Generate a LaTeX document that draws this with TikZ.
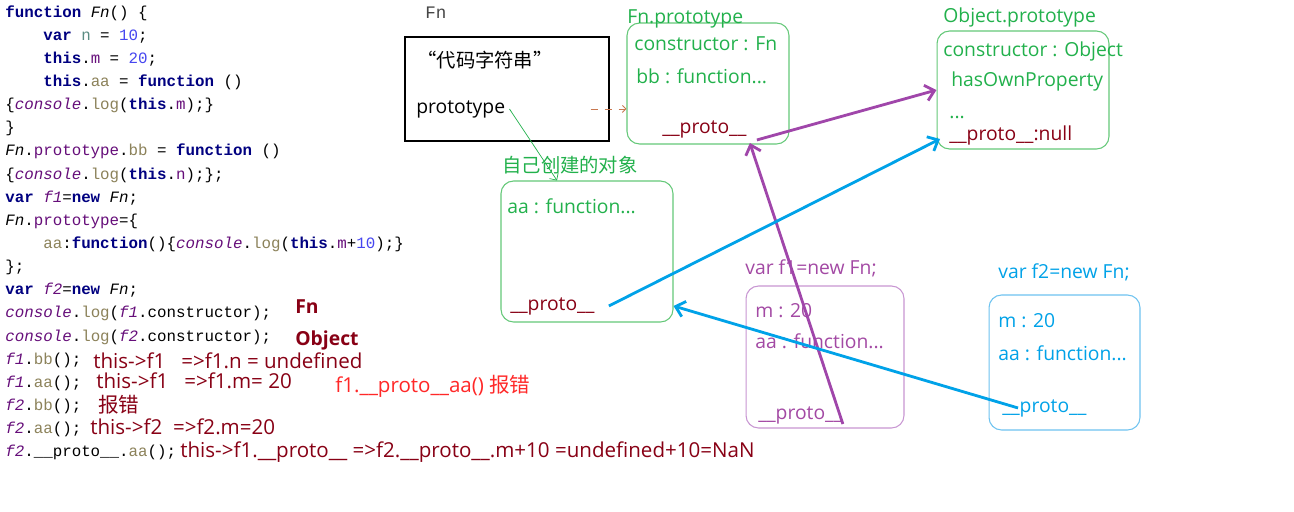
\documentclass[tikz,border=0pt]{standalone}
\usepackage{fontspec}
\setmainfont{Open Sans}
\setmonofont{Liberation Mono}
\newfontfamily\cjk{Noto Sans CJK SC}
\usetikzlibrary{arrows.meta,calc,positioning}

\definecolor{kwblue}{RGB}{0,0,128}
\definecolor{codepurple}{RGB}{102,14,122}
\definecolor{codeolive}{RGB}{140,130,90}
\definecolor{codeteal}{RGB}{90,140,130}
\definecolor{codenum}{RGB}{70,70,240}
\definecolor{codegray}{RGB}{70,70,70}
\definecolor{boxgreen}{RGB}{100,200,120}
\definecolor{txtgreen}{RGB}{34,177,76}
\definecolor{darkred}{RGB}{136,0,21}
\definecolor{errred}{RGB}{255,40,40}
\definecolor{purpletxt}{RGB}{163,73,164}
\definecolor{purpleline}{RGB}{160,70,170}
\definecolor{purplebox}{RGB}{200,150,210}
\definecolor{bluetxt}{RGB}{0,162,232}
\definecolor{bluebox}{RGB}{110,195,240}
\definecolor{dashbrown}{RGB}{200,120,80}

\newcommand{\kw}[1]{\textcolor{kwblue}{\bfseries #1}}
\newcommand{\fnit}[1]{\textit{#1}}
\newcommand{\cons}{\textcolor{codepurple}{\itshape console}}
\newcommand{\prp}[1]{\textcolor{codepurple}{#1}}
\newcommand{\olv}[1]{\textcolor{codeolive}{#1}}
\newcommand{\cnum}[1]{\textcolor{codenum}{#1}}
\newcommand{\ff}[1]{\textcolor{codepurple}{\itshape #1}}
\newcommand{\codetab}{\ \ \ \ }
\newcommand{\codefont}{\ttfamily\fontsize{9}{11}\selectfont}
\newcommand{\lblfont}{\fontsize{11}{13}\selectfont}
\newcommand{\notefont}{\fontsize{11.7}{14}\selectfont}

\begin{document}
\begin{tikzpicture}[x=0.02cm, y=-0.02cm,
		codeline/.style = {anchor=base west, inner sep=0pt, font=\codefont},
		txt/.style      = {anchor=base west, inner sep=0pt, font=\lblfont},
		basic/.style    = {draw, inner sep=0pt, line width=0.6pt},
		gbox/.style     = {basic, draw=boxgreen, rounded corners=0.25cm},
		pbox/.style     = {basic, draw=purplebox, rounded corners=0.25cm},
		bbox/.style     = {basic, draw=bluebox, rounded corners=0.25cm},
		parrow/.style   = {draw=purpleline, line width=1.6pt, -{Straight Barb[length=5pt,width=9pt]}},
		barrow/.style   = {draw=bluetxt, line width=1.6pt, -{Straight Barb[length=5pt,width=9pt]}},
		dasharrow/.style= {draw=dashbrown, line width=0.5pt, dash pattern=on 4pt off 4pt, -{Straight Barb[length=2pt,width=4pt]}},
		garrow/.style   = {draw=txtgreen, line width=0.4pt, -{Straight Barb[length=3pt,width=6pt]}}]

		\path[use as bounding box, fill=white] (0,0) rectangle (1294,511);

		% source code on the left
		\foreach \t [count=\i] in {
			{\kw{function} \fnit{Fn}() \{},
			{\codetab\kw{var} \textcolor{codeteal}{n} = \cnum{10};},
			{\codetab\kw{this}.\prp{m} = \cnum{20};},
			{\codetab\kw{this}.\olv{aa} = \kw{function} ()},
			{\{\cons.\olv{log}(\kw{this}.\prp{m});\}},
			{\}},
			{\fnit{Fn}.\prp{prototype}.\olv{bb} = \kw{function} ()},
			{\{\cons.\olv{log}(\kw{this}.\prp{n});\};},
			{\kw{var} \ff{f1}=\kw{new} \fnit{Fn};},
			{\fnit{Fn}.\prp{prototype}=\{},
			{\codetab\olv{aa}:\kw{function}()\{\cons.\olv{log}(\kw{this}.\prp{m}+\cnum{10});\}},
			{\};},
			{\kw{var} \ff{f2}=\kw{new} \fnit{Fn};},
			{\cons.\olv{log}(\ff{f1}.constructor);},
			{\cons.\olv{log}(\ff{f2}.constructor);},
			{\ff{f1}.\olv{bb}();},
			{\ff{f1}.\olv{aa}();},
			{\ff{f2}.\olv{bb}();},
			{\ff{f2}.\olv{aa}();},
			{\ff{f2}.\_\_proto\_\_.\olv{aa}();}}
		\node[codeline] (code\i) at (5,{17+23.15*(\i-1)}) {\t};

		% answers and notes
		\begin{scope}[every node/.style={txt, font=\notefont, text=darkred}]
			\node[font=\lblfont\bfseries] (ansFn) at (295,313) {Fn};
			\node[font=\lblfont\bfseries] (ansObj) at (295,345) {Object};
			\node (note1) at (93,368) {this->f1\ \ \ =>f1.n = undefined};
			\node (note2) at (96,388) {this->f1\ \ \ =>f1.m= 20};
			\node (note3) at (98,412) {\cjk 报错};
			\node (note4) at (90,434) {this->f2\ \ =>f2.m=20};
			\node (note5) at (180,457) {this->f1.\_\_proto\_\_ =>f2.\_\_proto\_\_.m+10 =undefined+10=NaN};
			\node[text=errred] (noteErr) at (335,392) {f1.\_\_proto\_\_aa() {\cjk 报错}};
		\end{scope}

		% boxes
		\node[basic, minimum width=4.08cm, minimum height=2.08cm] (fnbox) at (507,89) {};
		\node[gbox, minimum width=3.24cm, minimum height=2.42cm] (fpbox) at (708,83.5) {};
		\node[gbox, minimum width=3.44cm, minimum height=2.36cm] (objbox) at (1023,90) {};
		\node[gbox, minimum width=3.44cm, minimum height=2.82cm] (selfbox) at (587,251.5) {};
		\node[pbox, minimum width=3.16cm, minimum height=2.84cm] (f1box) at (825,357) {};
		\node[bbox, minimum width=3.02cm, minimum height=2.70cm] (f2box) at (1064.5,362.5) {};

		% Fn
		\node[txt, font=\ttfamily\fontsize{10}{12}\selectfont, text=codegray] (fnTitle) at (425,18) {Fn};
		\node[txt] (zhLbl) at (417,67) {\cjk “代码字符串”};
		\node[txt] (protoLbl) at (416,113) {prototype};

		% Fn.prototype
		\begin{scope}[every node/.style={txt, text=txtgreen}]
			\node (fpTitle) at (627,23) {Fn.prototype};
			\node (fpCons) at (634,50) {constructor : Fn};
			\node (fpBb) at (636,83) {bb : function...};
			\node[text=darkred] (fpProto) at (662,133) {\_\_proto\_\_};
		\end{scope}

		% Object.prototype
		\begin{scope}[every node/.style={txt, text=txtgreen}]
			\node (objTitle) at (943,22) {Object.prototype};
			\node (objCons) at (943,56) {constructor : Object};
			\node (objHas) at (951,86) {hasOwnProperty};
			\node (objDots) at (949,118) {...};
			\node[text=darkred] (objProto) at (949,140) {\_\_proto\_\_:null};
		\end{scope}

		% own object
		\begin{scope}[every node/.style={txt, text=txtgreen}]
			\node (selfTitle) at (502,172) {\cjk 自己创建的对象};
			\node (selfAa) at (507,213) {aa : function...};
			\node[text=darkred] (selfProto) at (510,310) {\_\_proto\_\_};
		\end{scope}

		% f1
		\begin{scope}[every node/.style={txt, text=purpletxt}]
			\node (f1Title) at (745,274) {var f1=new Fn;};
			\node (f1M) at (755,317) {m : 20};
			\node (f1Aa) at (755,348) {aa : function...};
			\node (f1Proto) at (758,419) {\_\_proto\_\_};
		\end{scope}

		% f2
		\begin{scope}[every node/.style={txt, text=bluetxt}]
			\node (f2Title) at (998,278) {var f2=new Fn;};
			\node (f2M) at (998,327) {m : 20};
			\node (f2Aa) at (998,360) {aa : function...};
			\node (f2Proto) at (1002,412) {\_\_proto\_\_};
		\end{scope}

		% links
		\draw[dasharrow] ($(fnbox.east |- protoLbl.east)+(-19,0)$) -- (fpbox.west |- protoLbl.east);
		\draw[garrow] ($(protoLbl.east)+(4,0)$) -- ($(selfbox.north)+(-30,0)$);
		\draw[parrow] ($(fpProto.east)+(10,11)$) -- (objbox.west);
		\draw[parrow] (f1Proto.south east) -- ($(fpProto.south east)+(3,5)$);
		\draw[barrow] ($(selfProto.east)+(14,0)$) -- ($(objProto.west)+(-9,4)$);
		\draw[barrow] ($(f2Proto.west)+(16,0)$) -- (selfbox.east |- selfProto.east);

	\end{tikzpicture}
\end{document}
